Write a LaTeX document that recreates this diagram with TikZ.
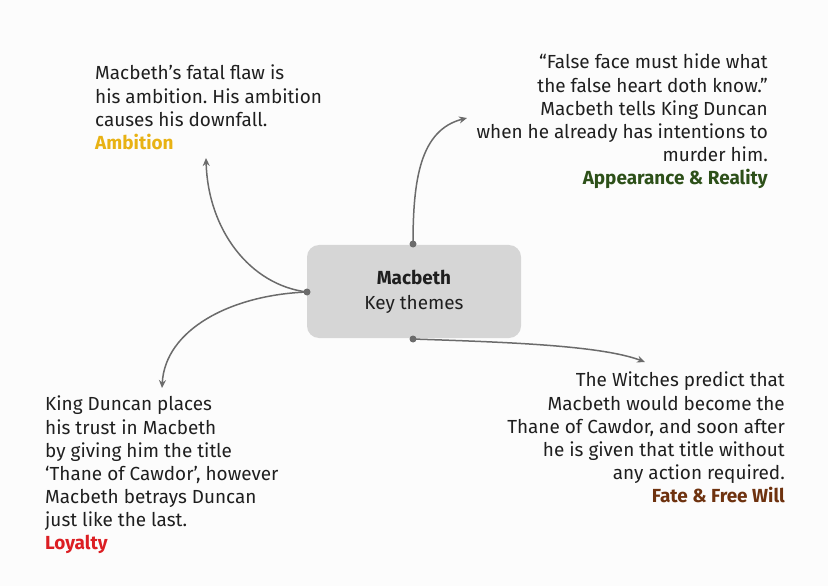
\documentclass[tikz,border=0pt]{standalone}
\usepackage{fontspec}
\setmainfont{Fira Sans}
\usetikzlibrary{arrows.meta}
\begin{document}
\frenchspacing
\begin{tikzpicture}[x=1bp,y=-1bp,
  txt/.style={font=\fontsize{19}{23.2}\selectfont, inner sep=0pt, text=black!88},
  conn/.style={draw=black!58, line width=1.5bp, -{Stealth[length=8bp,width=7bp]}},
  dot/.style={circle, fill=black!58, inner sep=0pt, minimum size=7bp}]
\useasboundingbox (0,0) rectangle (828,586);
\fill[black!1] (0,0) rectangle (828,586);
\node[fill=black!16, rounded corners=12bp, minimum width=214bp, minimum height=93bp, align=center, txt, font=\fontsize{19}{25}\selectfont] (center) at (414,291.5) {\textbf{Macbeth}\\Key themes};
\node[dot] (dt) at (413,244) {};
\node[dot] (dl) at (307,292) {};
\node[dot] (db) at (413,339) {};
\node[txt, anchor=north west, align=left] (amb) at (95,65) {Macbeth's fatal flaw is\\his ambition. His ambition\\causes his downfall.\\\textcolor[RGB]{232,178,20}{\textbf{Ambition}}};
\node[txt, anchor=north east, align=right] (app) at (768,54) {“False face must hide what\\the false heart doth know.”\\Macbeth tells King Duncan\\when he already has intentions to\\murder him.\\\textcolor[RGB]{45,80,25}{\textbf{Appearance \& Reality}}};
\node[txt, anchor=north west, align=left] (loy) at (45,396) {King Duncan places\\his trust in Macbeth\\by giving him the title\\‘Thane of Cawdor’, however\\Macbeth betrays Duncan\\just like the last.\\\textcolor[RGB]{220,30,35}{\textbf{Loyalty}}};
\node[txt, anchor=north east, align=right] (fate) at (785,372) {The Witches predict that\\Macbeth would become the\\Thane of Cawdor, and soon after\\he is given that title without\\any action required.\\\textcolor[RGB]{110,50,15}{\textbf{Fate \& Free Will}}};
\coordinate (ta) at (467,118);
\coordinate (ab) at (206,158);
\coordinate (lo) at (162,388);
\coordinate (fa) at (645,362);
\draw[conn] (dt.center) .. controls (413,180) and (420,130) .. (ta);
\draw[conn] (dl.center) .. controls (250,285) and (208,230) .. (ab);
\draw[conn] (dl.center) .. controls (230,295) and (165,330) .. (lo);
\draw[conn] (db.center) .. controls (500,342) and (600,345) .. (fa);
\end{tikzpicture}
\end{document}
